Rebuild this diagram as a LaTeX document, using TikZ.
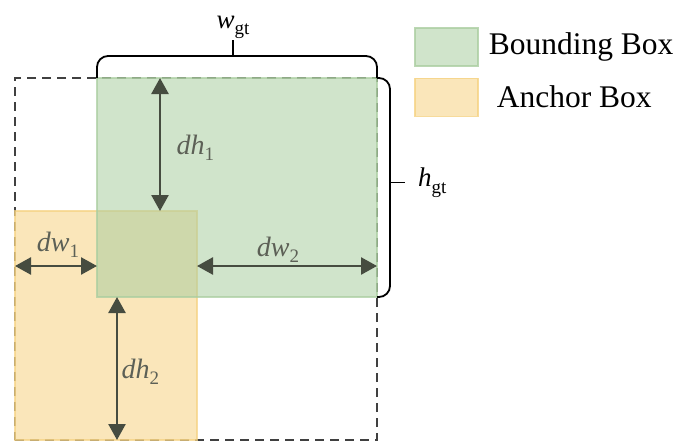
\documentclass[tikz,border=0pt]{standalone}
\usepackage{fontspec}
\setmainfont{Liberation Serif}
\usetikzlibrary{arrows.meta}
\usetikzlibrary{positioning}
\usetikzlibrary{calc}

\definecolor{gtgreen}{RGB}{170,205,160}
\definecolor{ancorange}{RGB}{245,210,130}
\definecolor{dimgray}{RGB}{70,76,64}
\definecolor{lblgray}{RGB}{92,96,86}

% offset label: italic name with an upright index below
\newcommand{\offs}[2]{\textit{#1}{\fontsize{19}{19}\selectfont\raisebox{-0.3em}{#2}}}
\newcommand{\gtsize}[1]{\textit{#1}{\fontsize{19}{19}\selectfont\raisebox{-0.35em}{gt}}}

\begin{document}
\begin{tikzpicture}[x=1pt,y=-1pt]
\tikzstyle{boxbase}=[inner sep=0pt, outer sep=0pt, anchor=north west]
\tikzstyle{gtbox}=[boxbase, fill=gtgreen, fill opacity=0.55, draw=gtgreen, 
draw opacity=0.75, line width=1.2pt]
\tikzstyle{ancbox}=[boxbase, fill=ancorange, fill opacity=0.55, draw=ancorange, 
draw opacity=0.75, line width=1.2pt]
\tikzstyle{roibox}=[boxbase, draw=black!75, line width=1.5pt, 
dash pattern=on 9pt off 6pt]
\tikzstyle{dimarrow}=[dimgray, line width=2.6pt, 
{Triangle[width=17pt,length=16pt]}-{Triangle[width=17pt,length=16pt]}]
\tikzstyle{dimlabel}=[text=lblgray, font=\fontsize{28}{30}\selectfont]
\tikzstyle{brace}=[black, line width=1.8pt, rounded corners=11pt]
\tikzstyle{legendsq}=[draw=#1, draw opacity=0.8, fill=#1, fill opacity=0.55, 
line width=1.2pt, minimum width=63pt, minimum height=38pt, inner sep=0pt]
	\useasboundingbox (0,0) rectangle (680,442);
	
	% boxes
	\node [roibox, minimum width=362pt, minimum height=362pt] (roi) at (15,78) 
	{};
	\node [ancbox, minimum width=182pt, minimum height=229pt] (anc) at (15,211) 
	{};
	\node [gtbox, minimum width=280pt, minimum height=219pt] (gt) at (97,78) {};
	
	% offsets
	\coordinate (h1) at ([xshift=63pt]gt.north west);
	\coordinate (w1) at ([yshift=-55pt]anc.north west);
	\coordinate (h2) at ([xshift=20pt]gt.south west);
	\draw [dimarrow] (h1) -- node [dimlabel, right, xshift=12pt, yshift=-3pt] 
	{\offs{dh}{1}} (h1 |- anc.north);
	\draw [dimarrow] (w1) -- node [dimlabel, above, xshift=2pt, yshift=4pt] 
	{\offs{dw}{1}} (w1 -| gt.west);
	\draw [dimarrow] (w1 -| anc.east) -- node [dimlabel, above, xshift=-9pt, 
	yshift=-1pt] {\offs{dw}{2}} (w1 -| gt.east);
	\draw [dimarrow] (h2) -- node [dimlabel, right, yshift=-3pt] 
	{\offs{dh}{2}} (h2 |- anc.south);
	
	% braces
	\draw [brace] (gt.north west) -- ++(0,-22) -- ++(280,0) -- ++(0,22);
	\draw [brace] (gt.north) ++(-4,-22) -- ++(0,-16) coordinate (wtip);
	\node [above, inner sep=1pt, font=\fontsize{27}{28}\selectfont] (wgt) at 
	(wtip) {\gtsize{w}};
	\draw [brace] (gt.north east) -- ++(13,0) -- ++(0,219) -- ++(-13,0);
	\draw [brace] (gt.east) ++(13,-5) -- ++(15,0) coordinate (htip);
	\node [right, inner sep=2pt, xshift=11pt, font=\fontsize{27}{28}\selectfont] 
	(hgt) at (htip) {\gtsize{h}};
	
	% legend
	\node [legendsq=gtgreen] (lgt) at (446.5,47) {};
	\node [legendsq=ancorange, below = 11pt of lgt] (lanc) {};
	\node [right = 10pt of lgt, font=\fontsize{31.5}{34}\selectfont, 
	inner sep=0pt] (tgt) {Bounding Box};
	\node [right = 18pt of lanc, font=\fontsize{31.5}{34}\selectfont, 
	inner sep=0pt] (tanc) {Anchor Box};
\end{tikzpicture}
\end{document}
